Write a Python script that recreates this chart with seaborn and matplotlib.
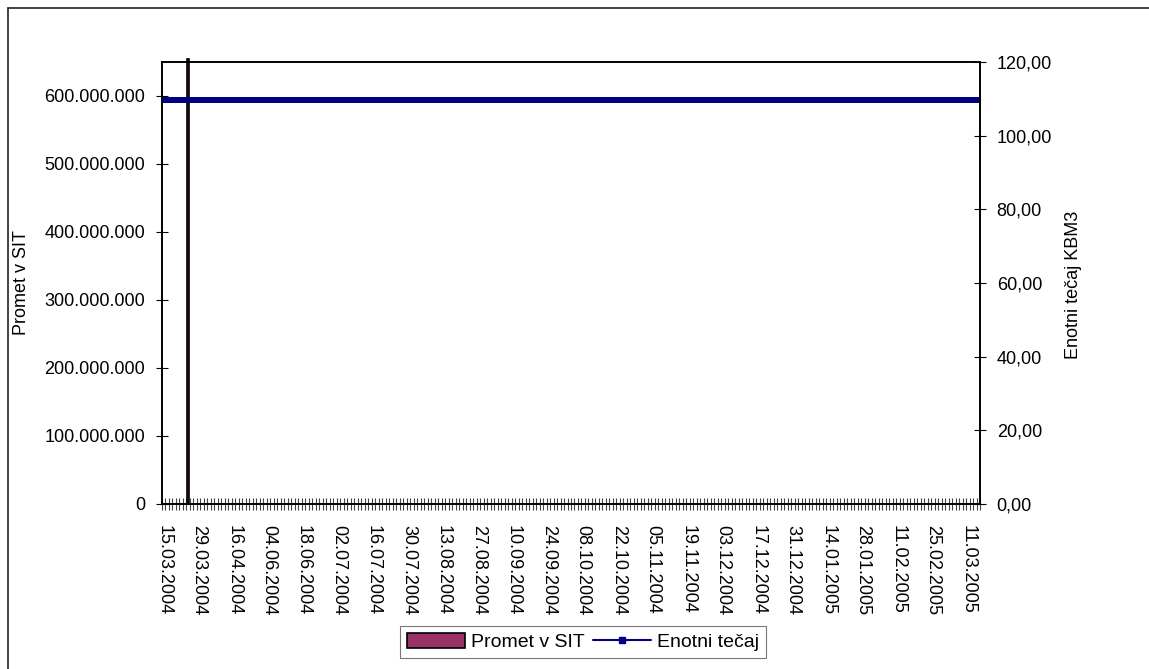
import numpy as np
import pandas as pd
import matplotlib.pyplot as plt
import seaborn as sns
from matplotlib.patches import Patch
from matplotlib.lines import Line2D
from matplotlib.ticker import FuncFormatter

sns.set_theme(style="ticks")
plt.rcParams['font.family'] = ['Liberation Sans', 'DejaVu Sans']
plt.rcParams.update({'font.size': 13, 'xtick.labelsize': 13,
                     'ytick.labelsize': 13, 'legend.fontsize': 14,
                     'text.color': 'black', 'axes.labelcolor': 'black',
                     'xtick.color': 'black', 'ytick.color': 'black',
                     'axes.edgecolor': 'black'})

#%% data
n_days = 234                      # trading days on the category axis
spike_day = 7                     # only day with turnover
spike_value = 655000000           # bar runs just past the top of the axis
turnover = [0.0] * n_days
turnover[spike_day] = spike_value
rate = [109.6] * n_days           # flat unit price all year

tick_labels = ["15.03.2004", "29.03.2004", "16.04.2004", "04.06.2004",
               "18.06.2004", "02.07.2004", "16.07.2004", "30.07.2004",
               "13.08.2004", "27.08.2004", "10.09.2004", "24.09.2004",
               "08.10.2004", "22.10.2004", "05.11.2004", "19.11.2004",
               "03.12.2004", "17.12.2004", "31.12.2004", "14.01.2005",
               "28.01.2005", "11.02.2005", "25.02.2005", "11.03.2005"]
label_step = 10

left_ticks = [0, 100e6, 200e6, 300e6, 400e6, 500e6, 600e6]
right_ticks = [0, 20, 40, 60, 80, 100, 120]

df = pd.DataFrame({"day": np.arange(n_days),
                   "Promet v SIT": turnover,
                   "Enotni tečaj": rate})

#%% figure
W, H = 1149, 669
fig = plt.figure(figsize=(W / 100, H / 100), dpi=100)
ax = fig.add_axes([162 / W, 1 - 504 / H, 818 / W, 442 / H])

sns.barplot(data=df, x="day", y="Promet v SIT", color="#993366",
            edgecolor="black", linewidth=1.2, width=0.6, ax=ax,
            saturation=1)
for p in ax.patches:
    p.set_clip_on(False)
    if p.get_height() == 0:
        p.set_linewidth(0)

ax.set_ylim(0, 650e6)
ax.set_yticks(left_ticks)
ax.yaxis.set_major_formatter(
    FuncFormatter(lambda v, pos: f"{int(v):,}".replace(",", ".")))
ax.set_ylabel("")
ax.set_xlabel("")

ax2 = ax.twinx()
sns.lineplot(data=df, x="day", y="Enotni tečaj", color="#000080",
             marker="s", markersize=4.5, markeredgewidth=0, linewidth=2.5,
             ax=ax2, clip_on=False)
ax2.set_ylim(0, 120)
ax2.set_yticks(right_ticks)
ax2.yaxis.set_major_formatter(
    FuncFormatter(lambda v, pos: f"{v:.2f}".replace(".", ",")))
ax2.set_ylabel("")
ax2.set_xlabel("")

# category axis: ticks on boundaries, labels every 10th day
ax.set_xlim(-0.5, n_days - 0.5)
ax.set_xticks(np.arange(0, n_days, label_step)[:len(tick_labels)])
ax.set_xticklabels(tick_labels, rotation=-90, va="top", ha="center")
ax.set_xticks(np.arange(-0.5, n_days, 1), minor=True)
ax.tick_params(axis="x", which="major", length=0, pad=15)
ax.tick_params(axis="x", which="minor", length=9, width=0.8,
               direction="inout", color="#444444")
ax.tick_params(axis="y", length=8, width=0.8, direction="inout", pad=8)
ax2.tick_params(axis="y", length=8, width=0.8, direction="inout", pad=8)

for a in [ax, ax2]:
    for s in a.spines.values():
        s.set_visible(True)
        s.set_linewidth(1.2)

fig.text(22 / W, 1 - 283 / H, "Promet v SIT", rotation=90,
         ha="center", va="center", fontsize=13)
fig.text(1073 / W, 1 - 285 / H, "Enotni tečaj KBM3", rotation=90,
         ha="center", va="center", fontsize=13)

handles = [Patch(facecolor="#993366", edgecolor="black", linewidth=1.2),
           Line2D([], [], color="#000080", marker="s", markersize=4.5,
                  linewidth=1.5)]
leg = fig.legend(handles, ["Promet v SIT", "Enotni tečaj"], loc="center",
                 bbox_to_anchor=(583 / W, 1 - 642 / H), ncol=2,
                 frameon=True, fancybox=False, edgecolor="#555555",
                 handlelength=3, handleheight=0.8, columnspacing=0.4,
                 handletextpad=0.3, borderpad=0.35, borderaxespad=0)
leg.get_frame().set_linewidth(0.8)

# chart area border (cut off at right and bottom)
fig.add_artist(Line2D([8 / W, 8 / W], [0, 1 - 8 / H], color="#222222",
                      linewidth=1.2, transform=fig.transFigure))
fig.add_artist(Line2D([8 / W, 1], [1 - 8 / H, 1 - 8 / H], color="#222222",
                      linewidth=1.2, transform=fig.transFigure))

plt.savefig("out.png", dpi=100)
